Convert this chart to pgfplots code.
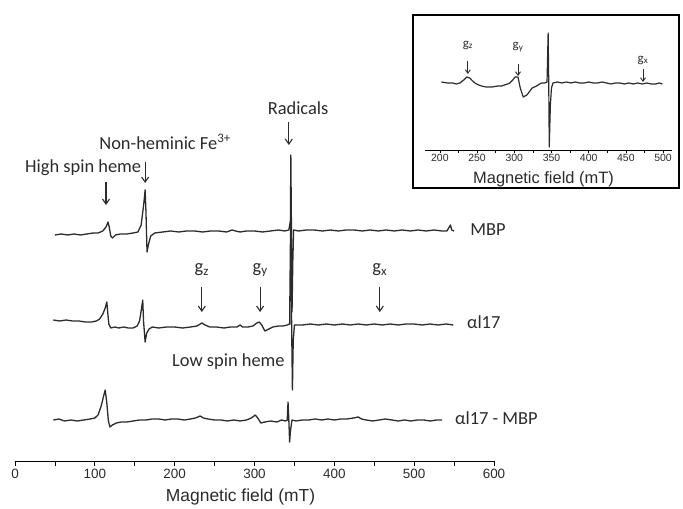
\documentclass[border=0pt]{standalone}
\usepackage{fontspec}
\setmainfont{Carlito}
\newfontfamily\arialfont{Liberation Sans}
\usepackage{pgfplots}
\pgfplotsset{compat=1.18}
\usetikzlibrary{arrows.meta}
\definecolor{ink}{HTML}{2B2B2B}
\newcommand\ann{\fontsize{18.5}{20}\selectfont}
\newcommand\sann{\fontsize{13}{14}\selectfont}

\begin{document}
\begin{tikzpicture}[x=1bp,y=1bp,
  arr/.style={-{Straight Barb[length=5bp,width=7bp]}, line width=1.1bp, ink},
  spec/.style={ink, line width=1.3bp, no markers, line join=round}]
\useasboundingbox (0,0) rectangle (683,509);
\begin{axis}[
  at={(15bp,48bp)}, anchor=south west, scale only axis,
  width=479bp, height=361bp,
  xmin=0, xmax=600, ymin=0, ymax=361,
  axis x line=bottom, axis y line=none,
  axis line style={-, line width=0.9bp, black},
  xtick={0,100,...,600}, minor x tick num=1,
  tick align=outside, major tick length=5bp, minor tick length=5bp,
  tick style={line width=0.8bp, black},
  ytick=\empty,
  /pgf/number format/assume math mode=true,
  xticklabel style={font=\arialfont\fontsize{13.5}{15}\selectfont, text=ink},
  xlabel={Magnetic field (mT)},
  xlabel style={font=\arialfont\fontsize{17.5}{19}\selectfont, text=ink,
    at={(axis description cs:0.5,0)}, anchor=center, yshift=-36bp, xshift=-14bp},
  clip=false,
]
% MBP
\addplot[spec] table {
x y
50 226
58 227
66 226
74 227
82 226
90 227
98 228
104 228
110 230
114 234
116.5 239
118 234
120 225
122 223
126 226
132 227
140 227
148 228
154 229
158 236
161 255
163 271
164 250
165.4 209
167 216
170 225
175 228
185 229
195 230
205 229
215 230
225 230
235 229
245 230
255 230
265 229
272 231
276 230
282 229
290 230
300 230
310 229
320 230
330 231
338 230
343 231
345 240
345.5 306
346.3 230
347 149
348 200
349 231
355 230
365 231
375 231
385 230
395 231
405 230
415 231
425 231
435 230
445 231
455 230
465 231
475 230
485 231
495 230
505 231
515 230
525 231
535 230
541 230
544 234
545.5 236
547 231
550 230
};
% alpha I17
\addplot[spec] table {
x y
48 141
56 140
64 141
72 140
80 140
88 139
96 139
102 140
106 142
110 147
113 153
115 159
116 150
117.5 137
120 133
125 134
130 133
136 134
142 133
148 133
153 135
156 140
158 150
160 161
161 140
163 119
165 128
168 132
172 134
180 133
190 134
200 134
210 133
220 134
228 135
234 138
238 136
244 134
252 134
262 133
270 134
278 134
282 136
285 134
292 134
298 135
303 138
306 139
309 136
313 130
318 132
323 134
330 135
336 135
341 136
344 137
345.5 261
346.5 137
347.5 71
348.5 120
350 136
360 136
370 137
380 136
390 137
400 136
410 137
420 136
430 137
440 136
450 137
460 136
470 137
480 136
490 137
500 137
510 136
520 137
530 136
540 137
549 136
};
% alpha I17 - MBP
\addplot[spec] table {
x y
48 41
55 42
62 40
70 41
78 40
86 41
94 42
100 43
104 46
108 55
111 65
113 71
115 58
117 40
119 34
122 36
127 38
133 39
140 39
148 40
156 41
164 41
172 42
180 42
188 41
196 42
204 42
212 41
220 42
226 43
232 45
236 43
242 42
250 41
258 41
266 40
274 41
282 40
290 41
296 43
301 46
304 43
308 38
313 39
320 40
328 39
334 41
339 40
341 41
342 59
343 41
344 19
345 30
347 41
352 40
360 41
368 41
376 42
384 41
392 42
400 41
408 42
416 42
424 43
430 44
434 42
440 41
448 40
456 41
464 42
472 41
480 40
488 41
496 40
504 41
512 41
520 40
528 41
535 41
};
% annotations
\node[font=\ann, text=ink] at (axis cs:354.6,353) {Radicals};
\draw[arr] (axis cs:343,339) -- (axis cs:343,316);
\node[font=\ann, text=ink] at (axis cs:188,319) {Non-heminic Fe\textsuperscript{3+}};
\draw[arr] (axis cs:163,299) -- (axis cs:163,278);
\node[font=\ann, text=ink, anchor=west, inner sep=0pt] at (axis cs:12.5,293) {High spin heme};
\draw[arr] (axis cs:114,279) -- (axis cs:114,256);
\node[font=\ann, text=ink, anchor=west, inner sep=0pt] at (axis cs:570,231) {MBP};
\node[font=\ann, text=ink, anchor=west, inner sep=0pt] at (axis cs:566,139) {αl17};
\node[font=\ann, text=ink, anchor=west, inner sep=0pt] at (axis cs:551,43) {αl17 - MBP};
\node[font=\ann, text=ink, anchor=east, inner sep=0pt] at (axis cs:338,99) {Low spin heme};
\node[font=\ann, text=ink] at (axis cs:234,191) {g\textsubscript{z}};
\node[font=\ann, text=ink] at (axis cs:307,191) {g\textsubscript{y}};
\node[font=\ann, text=ink] at (axis cs:457,191) {g\textsubscript{x}};
\draw[arr] (axis cs:234,174) -- (axis cs:234,149);
\draw[arr] (axis cs:307,174) -- (axis cs:307,149);
\draw[arr] (axis cs:457,174) -- (axis cs:457,149);
\end{axis}

\draw[line width=1.1bp, black] (413,321) rectangle (679,494);
\begin{axis}[
  at={(425bp,359bp)}, anchor=south west, scale only axis,
  width=247bp, height=130bp,
  xmin=180, xmax=512, ymin=0, ymax=130,
  axis x line=bottom, axis y line=none,
  axis line style={-, line width=0.9bp, black},
  xtick={200,250,...,500}, minor x tick num=1,
  tick align=outside, major tick length=3bp, minor tick length=3bp,
  tick style={line width=0.7bp, black},
  ytick=\empty,
  /pgf/number format/assume math mode=true,
  xticklabel style={font=\arialfont\fontsize{10.5}{12}\selectfont, text=ink, inner sep=1.5bp},
  xlabel={Magnetic field (mT)},
  xlabel style={font=\arialfont\fontsize{16.5}{18}\selectfont, text=ink,
    at={(axis description cs:0.5,0)}, anchor=center, yshift=-29bp, xshift=-5bp},
  clip=false,
]
\addplot[spec, line width=1.2bp] table {
x y
202 68
210 67
217 67
222 66
227 67
232 70
236 73
240 72
244 69
247 67
252 65
256 64
262 63
270 63
278 64
283 64
287 65
291 66
294 67
298 70
301 73
305 73
308 62
312 53
317 55
320 58
324 62
330 64
334 66
337 67
341 67
344 68
345.5 117
346.3 68
347 3
348.5 45
350 62
352 67
358 68
364 67
370 68
376 67
382 68
388 67
394 67
400 68
406 67
412 67
418 68
424 67
430 66
436 67
442 67
448 66
454 67
460 66
466 67
472 66
478 67
484 66
490 66
495 67
499 66
};
\node[font=\sann, text=ink] at (axis cs:237.6,105) {g\textsubscript{z}};
\node[font=\sann, text=ink] at (axis cs:305,103) {g\textsubscript{y}};
\node[font=\sann, text=ink] at (axis cs:473,90) {g\textsubscript{x}};
\draw[arr, line width=0.9bp, -{Straight Barb[length=3.5bp,width=5bp]}] (axis cs:237.6,89) -- (axis cs:237.6,76);
\draw[arr, line width=0.9bp, -{Straight Barb[length=3.5bp,width=5bp]}] (axis cs:305,86) -- (axis cs:305,74);
\draw[arr, line width=0.9bp, -{Straight Barb[length=3.5bp,width=5bp]}] (axis cs:473,81) -- (axis cs:473,68);
\end{axis}
\end{tikzpicture}
\end{document}
